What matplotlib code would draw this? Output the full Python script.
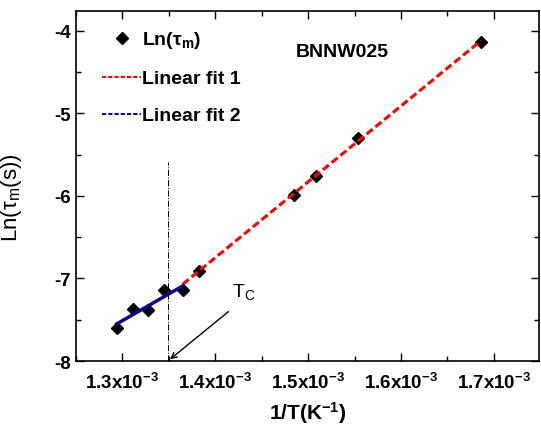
import numpy as np
import matplotlib
matplotlib.use("Agg")
import matplotlib.pyplot as plt
from matplotlib.ticker import MultipleLocator
from matplotlib.lines import Line2D

plt.rcParams['font.family'] = ['Liberation Sans', 'DejaVu Sans']
plt.rcParams['mathtext.fontset'] = 'custom'
plt.rcParams['mathtext.rm'] = 'Liberation Sans'
plt.rcParams['mathtext.it'] = 'Liberation Sans:italic'
plt.rcParams['mathtext.bf'] = 'Liberation Sans:bold'

# donnees
inv_T = [1.2939e-3, 1.311e-3, 1.328e-3, 1.345e-3, 1.365e-3,
         1.382e-3, 1.485e-3, 1.508e-3, 1.554e-3, 1.686e-3]
ln_tau = [-7.60, -7.37, -7.38, -7.14, -7.14,
          -6.91, -5.99, -5.76, -5.30, -4.13]
x_ticks = [1.3e-3, 1.4e-3, 1.5e-3, 1.6e-3, 1.7e-3]
x_labels = [r'$\mathbf{1.3x10^{-3}}$', r'$\mathbf{1.4x10^{-3}}$', r'$\mathbf{1.5x10^{-3}}$',
            r'$\mathbf{1.6x10^{-3}}$', r'$\mathbf{1.7x10^{-3}}$']
y_ticks = [-8, -7, -6, -5, -4]
Tc = 1.349e-3

x = np.array(inv_T)
y = np.array(ln_tau)

# fits
p1 = np.polyfit(x[5:], y[5:], 1)
p2 = np.polyfit(x[:5], y[:5], 1)
xf1 = np.linspace(x[4], x[-1], 50)
xf2 = np.linspace(x[0], x[4], 50)

fig = plt.figure(figsize=(5.41, 4.27), dpi=100)
ax = fig.add_axes([0.1405, 0.1522, 0.8555, 0.8197])

ax.plot(xf1, np.polyval(p1, xf1), color='red', ls=(0, (2.5, 1.2)), lw=2.2, zorder=3)
ax.plot(xf2, np.polyval(p2, xf2), color='#0a0a8a', ls='-', lw=2.5, zorder=3)
ax.plot(x, y, ls='none', marker='D', ms=6.5, color='black', zorder=2)

ax.plot([Tc, Tc], [-8, -5.59], color='black', ls='-.', lw=0.7)
ax.annotate('', xy=(Tc, -8), xytext=(1.4165e-3, -7.38),
            arrowprops=dict(arrowstyle='->', color='black', lw=1.0))
ax.text(1.4175e-3, -7.27, r'T$_\mathrm{C}$', fontsize=14, ha='left', va='bottom')

ax.text(1.4865e-3, -4.30, 'BNNW025', fontsize=14, fontweight='bold')

ax.set_xlim(1.25e-3, 1.7484e-3)
ax.set_ylim(-8, -3.76)
ax.set_xticks(x_ticks)
ax.set_xticklabels(x_labels, fontsize=13.5)
ax.set_yticks(y_ticks)
ax.set_yticklabels([str(v) for v in y_ticks], fontsize=13.5, fontweight='bold')
ax.xaxis.set_minor_locator(MultipleLocator(0.5e-4))
ax.yaxis.set_minor_locator(MultipleLocator(0.5))
ax.tick_params(which='both', direction='in', top=True, right=True, width=1)
ax.tick_params(which='major', length=6)
ax.tick_params(which='minor', length=3.5)
ax.tick_params(axis='x', pad=8)
for s in ax.spines.values():
    s.set_linewidth(1.2)

ax.set_xlabel(r'$\mathbf{1/T(K^{-1})}$', fontsize=15, labelpad=5)
ax.set_ylabel(r'Ln(τ$_\mathrm{m}$(s))', fontsize=16)
ax.yaxis.set_label_coords(-0.112, 0.47)

handles = [Line2D([], [], ls='none', marker='D', ms=6.5, color='black'),
           Line2D([], [], color='red', ls=(0, (2, 1)), lw=1.5),
           Line2D([], [], color='#0a0a8a', ls=(0, (2, 1)), lw=1.5)]
labels = [r'Ln(τ$_\mathbf{m}$)', 'Linear fit 1', 'Linear fit 2']
leg = ax.legend(handles, labels, loc='upper left', frameon=False,
                prop={'weight': 'bold', 'size': 14}, handlelength=2.0,
                handletextpad=0.05, labelspacing=1.0, borderaxespad=0.4,
                bbox_to_anchor=(0.023, 0.992))

fig.savefig('out.png', dpi=100)
